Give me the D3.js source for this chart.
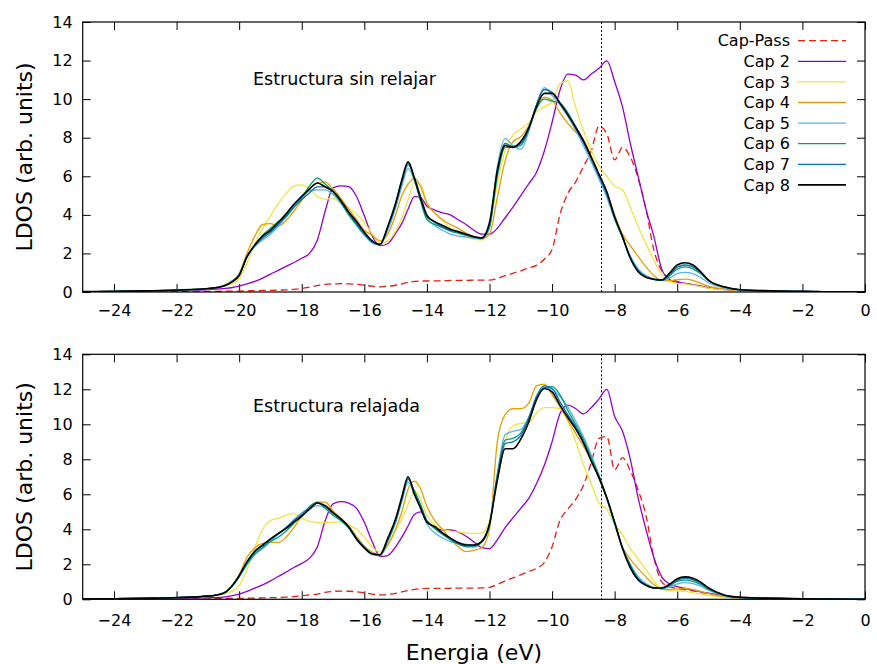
<!DOCTYPE html>
<html>
<head>
<meta charset="utf-8">
<script src="https://cdn.jsdelivr.net/npm/d3@7"></script>
<style>
  body { margin: 0; background: #fff; }
  svg { display: block; }
  text { font-family: "DejaVu Sans", sans-serif; fill: #000; }
</style>
</head>
<body>
<div id="chart"></div>
<script>
// energy grid (eV), shared by every curve
var energy = [-25, -24, -23, -22, -21, -20.5, -20.25,
  -20, -19.75, -19.5, -19.25, -19, -18.75, -18.5, -18.25, -18, -17.75, -17.5, -17.25, -17, -16.75, -16.5, -16.25, -16, -15.75, -15.5, -15.25, -15,
  -14.8, -14.6, -14.4, -14.2,
  -14, -13.75, -13.5, -13.25, -13, -12.75, -12.5, -12.25, -12, -11.75, -11.5, -11.25, -11, -10.75, -10.5, -10.25, -10, -9.75, -9.5, -9.25, -9, -8.75, -8.5, -8.25, -8, -7.75, -7.5, -7.25, -7, -6.75, -6.5, -6.25, -6, -5.75, -5.5, -5.25, -5,
  -4.5, -4, -3, -2, -1, 0];

var legendLabels = ["Cap-Pass", "Cap 2", "Cap 3", "Cap 4", "Cap 5", "Cap 6", "Cap 7", "Cap 8"];
var xTicks = [-24, -22, -20, -18, -16, -14, -12, -10, -8, -6, -4, -2, 0];
var yTicks = [0, 2, 4, 6, 8, 10, 12, 14];
var fermiLevel = -8.42;

// --- Estructura sin relajar ---
var passSin = [0, 0, 0.01, 0.02, 0.03, 0.04, 0.05,
  0.05, 0.06, 0.07, 0.08, 0.08, 0.1, 0.11, 0.14, 0.18, 0.25, 0.33, 0.4, 0.42, 0.43, 0.42, 0.4, 0.35, 0.3, 0.27, 0.3, 0.35,
  0.42, 0.5, 0.55, 0.57,
  0.57, 0.58, 0.58, 0.6, 0.6, 0.6, 0.62, 0.62, 0.62, 0.7, 0.85, 0.97, 1.1, 1.25, 1.38, 1.7, 2.2, 4.0, 5.1, 5.7, 6.5, 7.3, 8.6, 8.2, 6.85, 7.5, 7.0, 5.9, 4.3, 2.2, 1.1, 0.72, 0.55, 0.45, 0.38, 0.3, 0.22,
  0.13, 0.08, 0.05, 0.03, 0.02, 0.01];
var cap2Sin = [0.01, 0.02, 0.04, 0.07, 0.12, 0.18, 0.22,
  0.3, 0.42, 0.55, 0.72, 0.93, 1.12, 1.33, 1.53, 1.75, 2.0, 2.7, 4.2, 5.4, 5.5, 5.46, 4.95, 3.95, 2.9, 2.4, 2.5, 3.05,
  3.56, 4.3, 4.95, 4.9,
  4.45, 4.25, 4.1, 4.0, 3.75, 3.5, 3.2, 3.0, 3.0, 3.3, 3.85, 4.4, 5.0, 5.6, 6.2, 7.3, 8.8, 10.45, 11.3, 11.25, 11.0, 11.3, 11.6, 11.98, 10.9, 9.6, 7.7, 6.0, 4.3, 2.9, 1.2, 0.65, 0.5, 0.45, 0.38, 0.3, 0.22,
  0.13, 0.08, 0.05, 0.03, 0.02, 0.01];
var cap3Sin = [0.02, 0.03, 0.05, 0.09, 0.16, 0.3, 0.4,
  0.7, 1.5, 2.5, 3.3, 3.95, 4.6, 5.1, 5.5, 5.55, 5.35, 4.95, 4.8, 4.85, 4.6, 4.35, 4.05, 3.6, 3.0, 2.5, 2.65, 3.15,
  3.85, 4.8, 5.65, 5.6,
  4.6, 4.1, 3.7, 3.3, 3.05, 2.87, 2.73, 2.7, 3.5, 5.6, 7.35, 8.15, 8.45, 8.75, 9.35, 9.6, 9.85, 10.8, 10.95, 9.6, 8.4, 7.35, 6.55, 6.0, 5.5, 5.3, 4.4, 3.4, 2.5, 1.65, 0.9, 0.55, 0.45, 0.42, 0.35, 0.28, 0.2,
  0.12, 0.07, 0.04, 0.02, 0.01, 0];
var cap4Sin = [0.02, 0.03, 0.06, 0.1, 0.18, 0.35, 0.55,
  0.95, 2.0, 2.9, 3.5, 3.55, 3.42, 3.7, 4.2, 4.75, 5.35, 5.65, 5.7, 5.35, 4.85, 4.3, 3.75, 3.2, 2.95, 2.65, 3.0, 4.0,
  5.0, 5.6, 5.9, 5.45,
  4.6, 4.1, 3.75, 3.5, 3.3, 3.05, 2.87, 2.75, 3.0, 4.9, 6.8, 7.8, 8.05, 8.6, 9.5, 10.1, 9.95, 9.3, 8.75, 8.3, 7.9, 7.05, 6.1, 5.15, 4.0, 3.0, 2.4, 1.85, 1.3, 0.85, 0.6, 0.58, 0.64, 0.67, 0.6, 0.45, 0.3,
  0.15, 0.08, 0.04, 0.02, 0.01, 0];
var cap5Sin = [0.02, 0.03, 0.06, 0.1, 0.18, 0.32, 0.52,
  0.9, 1.8, 2.35, 2.7, 3.0, 3.4, 3.9, 4.5, 5.0, 5.25, 5.3, 5.3, 5.05, 4.6, 4.0, 3.45, 2.95, 2.55, 2.45, 3.2, 4.35,
  5.5, 6.4, 5.8, 4.85,
  3.85, 3.45, 3.2, 3.0, 2.9, 2.85, 2.8, 2.75, 3.3, 6.5, 7.95, 7.6, 7.4, 8.3, 9.7, 10.6, 10.2, 9.7, 9.1, 8.4, 7.6, 6.75, 5.85, 4.9, 3.75, 2.8, 1.85, 1.2, 0.85, 0.68, 0.6, 0.72, 0.95, 1.02, 0.95, 0.75, 0.48,
  0.22, 0.1, 0.05, 0.03, 0.01, 0];
var cap6Sin = [0.02, 0.03, 0.06, 0.1, 0.18, 0.32, 0.52,
  0.88, 1.8, 2.45, 2.95, 3.3, 3.65, 3.9, 4.4, 4.9, 5.5, 5.9, 5.6, 5.2, 4.65, 4.0, 3.5, 3.0, 2.6, 2.45, 3.4, 4.6,
  5.85, 6.7, 5.8, 4.7,
  3.75, 3.5, 3.35, 3.15, 3.05, 2.95, 2.85, 2.8, 3.4, 6.0, 7.5, 7.5, 7.6, 8.4, 9.5, 10.0, 9.9, 9.8, 9.3, 8.6, 7.85, 6.95, 6.05, 5.1, 3.85, 2.85, 1.82, 1.12, 0.8, 0.66, 0.6, 0.85, 1.18, 1.3, 1.2, 0.95, 0.58,
  0.25, 0.11, 0.06, 0.03, 0.01, 0];
var cap7Sin = [0.02, 0.03, 0.06, 0.1, 0.18, 0.32, 0.52,
  0.9, 1.85, 2.4, 2.8, 3.1, 3.5, 3.95, 4.4, 4.8, 5.15, 5.45, 5.45, 5.25, 4.7, 4.1, 3.55, 3.0, 2.6, 2.45, 3.35, 4.5,
  5.7, 6.6, 5.95, 4.95,
  4.0, 3.6, 3.35, 3.2, 3.1, 2.95, 2.85, 2.8, 3.5, 6.2, 7.7, 7.55, 7.7, 8.45, 9.7, 10.5, 10.35, 9.8, 9.2, 8.5, 7.75, 6.9, 6.0, 5.05, 3.85, 2.85, 1.8, 1.1, 0.78, 0.66, 0.6, 0.9, 1.28, 1.4, 1.3, 1.0, 0.6,
  0.26, 0.12, 0.06, 0.03, 0.01, 0];
var cap8Sin = [0.02, 0.03, 0.06, 0.1, 0.18, 0.3, 0.5,
  0.85, 1.83, 2.44, 2.9, 3.2, 3.6, 4.05, 4.55, 4.95, 5.35, 5.65, 5.45, 5.2, 4.75, 4.15, 3.65, 3.1, 2.65, 2.47, 3.4, 4.6,
  5.8, 6.75, 5.9, 4.85,
  3.95, 3.65, 3.45, 3.25, 3.13, 3.0, 2.87, 2.8, 3.6, 6.3, 7.6, 7.5, 7.8, 8.5, 9.6, 10.3, 10.3, 9.8, 9.2, 8.55, 7.85, 7.0, 6.1, 5.2, 3.9, 2.87, 1.75, 1.05, 0.76, 0.66, 0.62, 0.97, 1.4, 1.52, 1.4, 1.05, 0.62,
  0.27, 0.12, 0.06, 0.03, 0.01, 0];

// --- Estructura relajada ---
var passRel = [0, 0, 0.01, 0.02, 0.03, 0.04, 0.05,
  0.05, 0.06, 0.07, 0.08, 0.09, 0.1, 0.12, 0.15, 0.2, 0.25, 0.3, 0.4, 0.45, 0.47, 0.46, 0.43, 0.38, 0.3, 0.25, 0.28, 0.34,
  0.42, 0.5, 0.57, 0.6,
  0.63, 0.63, 0.63, 0.63, 0.64, 0.64, 0.64, 0.65, 0.68, 0.85, 1.05, 1.22, 1.4, 1.58, 1.77, 2.1, 3.0, 4.5, 5.15, 5.7, 6.5, 7.8, 9.2, 9.3, 7.4, 8.1, 7.35, 6.25, 4.8, 2.4, 1.0, 0.72, 0.62, 0.55, 0.48, 0.4, 0.33,
  0.2, 0.12, 0.06, 0.03, 0.02, 0.01];
var cap2Rel = [0.01, 0.02, 0.03, 0.05, 0.09, 0.13, 0.2,
  0.3, 0.45, 0.64, 0.82, 1.05, 1.3, 1.55, 1.82, 2.05, 2.35, 3.0, 4.5, 5.45, 5.58, 5.5, 5.2, 4.4, 3.3, 2.45, 2.5, 3.0,
  3.55, 4.2, 4.85, 5.0,
  4.5, 4.1, 3.96, 3.96, 3.85, 3.6, 3.28, 2.95, 2.9, 3.4, 4.1, 4.65, 5.2, 5.75, 6.6, 7.65, 9.0, 10.6, 11.1, 10.9, 10.6, 10.95, 11.45, 12.0, 10.45, 9.6, 8.0, 5.8, 4.0, 2.4, 1.3, 0.88, 0.72, 0.62, 0.52, 0.43, 0.35,
  0.2, 0.12, 0.06, 0.03, 0.02, 0.01];
var cap3Rel = [0.02, 0.03, 0.05, 0.09, 0.16, 0.3, 0.45,
  0.8, 1.7, 2.95, 4.0, 4.5, 4.63, 4.8, 4.9, 4.65, 4.45, 4.4, 4.38, 4.4, 4.42, 4.25, 4.0, 3.55, 3.0, 2.7, 3.1, 3.95,
  4.6, 5.4, 6.2, 5.7,
  4.8, 4.25, 4.0, 3.9, 3.85, 3.78, 3.77, 3.78, 4.5, 6.7, 9.0, 9.9, 10.05, 10.1, 10.65, 10.95, 10.95, 10.9, 10.2, 9.05, 7.7, 6.6, 5.5, 5.15, 4.3, 3.7, 2.9, 2.3, 1.7, 1.05, 0.6, 0.5, 0.48, 0.45, 0.38, 0.3, 0.22,
  0.13, 0.08, 0.04, 0.02, 0.01, 0];
var cap4Rel = [0.02, 0.03, 0.06, 0.1, 0.18, 0.38, 0.75,
  1.4, 2.4, 2.95, 3.2, 3.25, 3.25, 3.55, 4.1, 4.75, 5.25, 5.55, 5.55, 5.05, 4.65, 4.2, 3.6, 3.05, 2.7, 2.55, 3.1, 4.0,
  5.0, 6.3, 6.75, 6.3,
  5.3, 4.5, 4.0, 3.45, 3.0, 2.72, 2.8, 2.95, 4.0, 9.0, 10.55, 10.9, 10.9, 11.2, 12.2, 12.3, 11.7, 11.0, 10.25, 9.5, 8.75, 7.95, 6.9, 5.75, 4.4, 3.0, 2.3, 1.75, 1.28, 0.85, 0.58, 0.55, 0.6, 0.62, 0.56, 0.45, 0.32,
  0.16, 0.08, 0.04, 0.02, 0.01, 0];
var cap5Rel = [0.02, 0.03, 0.06, 0.1, 0.18, 0.35, 0.7,
  1.3, 2.0, 2.55, 2.9, 3.3, 3.7, 4.1, 4.55, 4.95, 5.2, 5.35, 5.25, 4.9, 4.5, 4.05, 3.4, 2.9, 2.55, 2.5, 3.3, 4.4,
  5.6, 6.7, 6.0, 5.2,
  4.3, 3.8, 3.5, 3.3, 3.2, 3.15, 3.1, 3.3, 4.25, 7.2, 9.4, 9.6, 9.7, 10.4, 11.5, 12.1, 12.0, 11.6, 11.0, 10.2, 9.3, 8.25, 7.1, 5.75, 4.25, 2.95, 2.0, 1.3, 0.9, 0.68, 0.6, 0.7, 0.88, 0.95, 0.9, 0.75, 0.52,
  0.2, 0.1, 0.05, 0.02, 0.01, 0];
var cap6Rel = [0.02, 0.03, 0.06, 0.1, 0.18, 0.35, 0.7,
  1.28, 2.0, 2.6, 2.95, 3.3, 3.55, 3.9, 4.35, 4.75, 5.3, 5.55, 5.2, 4.8, 4.5, 4.1, 3.5, 2.95, 2.6, 2.5, 3.35, 4.45,
  5.7, 6.85, 6.2, 5.4,
  4.5, 4.05, 3.7, 3.4, 3.15, 3.0, 3.0, 3.25, 4.2, 7.1, 9.1, 9.2, 9.5, 10.35, 11.5, 12.1, 12.15, 11.7, 10.8, 10.0, 9.15, 8.1, 7.05, 5.8, 4.35, 2.95, 1.95, 1.2, 0.82, 0.65, 0.62, 0.78, 1.02, 1.1, 1.03, 0.85, 0.58,
  0.22, 0.1, 0.05, 0.03, 0.01, 0];
var cap7Rel = [0.02, 0.03, 0.06, 0.1, 0.18, 0.35, 0.7,
  1.3, 2.1, 2.7, 3.05, 3.4, 3.75, 4.1, 4.5, 4.85, 5.25, 5.5, 5.3, 4.95, 4.55, 4.1, 3.45, 2.95, 2.6, 2.55, 3.4, 4.5,
  5.75, 6.9, 6.1, 5.3,
  4.45, 4.1, 3.75, 3.45, 3.2, 3.05, 3.05, 3.3, 4.3, 7.0, 8.9, 9.0, 9.35, 10.3, 11.6, 12.2, 12.05, 11.3, 10.55, 9.85, 9.0, 7.95, 6.95, 5.75, 4.35, 2.95, 1.9, 1.15, 0.82, 0.65, 0.63, 0.82, 1.1, 1.2, 1.12, 0.92, 0.62,
  0.24, 0.11, 0.06, 0.03, 0.01, 0];
var cap8Rel = [0.02, 0.03, 0.06, 0.1, 0.18, 0.35, 0.72,
  1.35, 2.15, 2.75, 3.1, 3.45, 3.77, 4.05, 4.42, 4.75, 5.15, 5.5, 5.35, 4.95, 4.6, 4.15, 3.45, 2.95, 2.6, 2.55, 3.5, 4.6,
  5.86, 7.0, 6.0, 5.2,
  4.4, 4.15, 3.8, 3.5, 3.25, 3.1, 3.1, 3.3, 4.3, 6.8, 8.6, 8.6, 9.15, 10.1, 11.4, 12.05, 11.85, 11.1, 10.4, 9.75, 8.95, 7.9, 6.95, 5.8, 4.4, 2.9, 1.8, 1.1, 0.8, 0.65, 0.65, 0.85, 1.18, 1.28, 1.2, 0.98, 0.65,
  0.25, 0.12, 0.06, 0.03, 0.01, 0];

// gnuplot-like colours, one per legend entry
var seriesColors = ["#e51e10", "#9400d3", "#f0e442", "#e69f00", "#56b4e9", "#009e73", "#0072b2", "#000000"];

var sinRelajar = [passSin, cap2Sin, cap3Sin, cap4Sin, cap5Sin, cap6Sin, cap7Sin, cap8Sin];
var relajada = [passRel, cap2Rel, cap3Rel, cap4Rel, cap5Rel, cap6Rel, cap7Rel, cap8Rel];

sinRelajar.concat(relajada).forEach(function (s, i) {
  if (s.length !== energy.length) throw new Error("series " + i + " has " + s.length + " points");
});

var width = 877, height = 664;
var left = 82.7, right = 865;

var svg = d3.select("#chart")
  .append("svg")
  .attr("width", width)
  .attr("height", height);

svg.append("rect").attr("width", width).attr("height", height).attr("fill", "#fff");

var x = d3.scaleLinear().domain([-25, 0]).range([left, right]);

function drawPanel(series, top, bottom, note, noteY, id, labelPad, withLegend) {
  var y = d3.scaleLinear().domain([0, 14]).range([bottom, top]);
  var g = svg.append("g");

  g.append("clipPath").attr("id", "clip" + id)
    .append("rect")
    .attr("x", left).attr("y", top)
    .attr("width", right - left).attr("height", bottom - top);

  // ticks on all four sides, pointing inward
  g.append("g")
    .attr("transform", "translate(0," + bottom + ")")
    .call(d3.axisBottom(x).tickValues(xTicks).tickSize(-8).tickSizeOuter(0).tickPadding(labelPad))
    .call(function (a) { a.select(".domain").remove(); });
  g.append("g")
    .attr("transform", "translate(0," + top + ")")
    .call(d3.axisTop(x).tickValues(xTicks).tickSize(-8).tickSizeOuter(0).tickFormat(""))
    .call(function (a) { a.select(".domain").remove(); });
  g.append("g")
    .attr("transform", "translate(" + left + ",0)")
    .call(d3.axisLeft(y).tickValues(yTicks).tickSize(-8).tickSizeOuter(0).tickPadding(10))
    .call(function (a) { a.select(".domain").remove(); });
  g.append("g")
    .attr("transform", "translate(" + right + ",0)")
    .call(d3.axisRight(y).tickValues(yTicks).tickSize(-8).tickSizeOuter(0).tickFormat(""))
    .call(function (a) { a.select(".domain").remove(); });

  g.selectAll(".tick line").attr("stroke", "#000").attr("stroke-width", 1);
  g.selectAll(".tick text").style("font-size", "16px").attr("fill", "#000");

  // Fermi level
  g.append("line")
    .attr("x1", x(fermiLevel)).attr("x2", x(fermiLevel))
    .attr("y1", top).attr("y2", bottom)
    .attr("stroke", "#000").attr("stroke-width", 1)
    .attr("stroke-dasharray", "2,2");

  var line = d3.line()
    .x(function (d, i) { return x(energy[i]); })
    .y(function (d) { return y(d); })
    .curve(d3.curveMonotoneX);

  g.append("g").attr("clip-path", "url(#clip" + id + ")")
    .selectAll("path")
    .data(series)
    .enter()
    .append("path")
    .attr("d", line)
    .attr("fill", "none")
    .attr("stroke", function (d, i) { return seriesColors[i]; })
    .attr("stroke-width", function (d, i) { return i === 7 ? 1.6 : 1.3; })
    .attr("stroke-dasharray", function (d, i) { return i === 0 ? "7,4" : null; })
    .attr("stroke-linejoin", "round");

  // border
  g.append("rect")
    .attr("x", left).attr("y", top)
    .attr("width", right - left).attr("height", bottom - top)
    .attr("fill", "none").attr("stroke", "#000").attr("stroke-width", 1.2);

  g.append("text")
    .attr("x", 253).attr("y", noteY)
    .style("font-size", "17.5px")
    .text(note);

  g.append("text")
    .attr("transform", "translate(24," + ((top + bottom) / 2) + ") rotate(-90)")
    .attr("text-anchor", "middle")
    .attr("dominant-baseline", "central")
    .style("font-size", "22px")
    .text("LDOS (arb. units)");

  if (withLegend) {
    var leg = g.append("g");
    legendLabels.forEach(function (lab, i) {
      var ly = 40.7 + i * 20.6;
      leg.append("text")
        .attr("x", 790).attr("y", ly + 5.6)
        .attr("text-anchor", "end")
        .style("font-size", "16px")
        .text(lab);
      leg.append("line")
        .attr("x1", 798).attr("x2", 846)
        .attr("y1", ly).attr("y2", ly)
        .attr("stroke", seriesColors[i])
        .attr("stroke-width", i === 7 ? 1.6 : 1.3)
        .attr("stroke-dasharray", i === 0 ? "7,4" : null);
    });
  }
}

drawPanel(sinRelajar, 22, 292, "Estructura sin relajar", 84.5, "a", 13, true);
drawPanel(relajada, 354.3, 599.3, "Estructura relajada", 411.5, "b", 15, false);

svg.append("text")
  .attr("x", (left + right) / 2)
  .attr("y", 660)
  .attr("text-anchor", "middle")
  .style("font-size", "22px")
  .text("Energia (eV)");
</script>
</body>
</html>
